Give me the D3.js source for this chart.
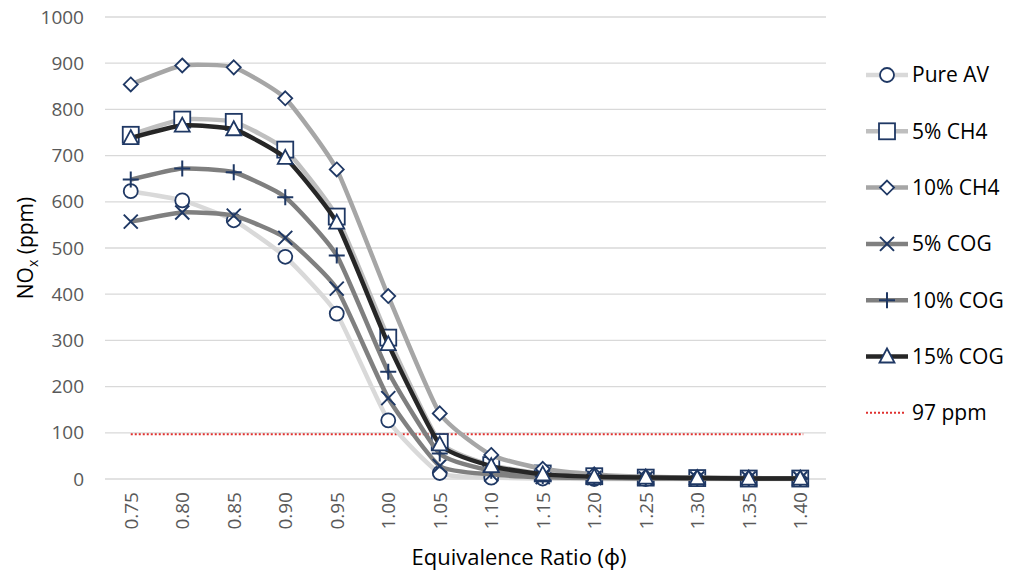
<!DOCTYPE html>
<html>
<head>
<meta charset="utf-8">
<script src="https://cdn.jsdelivr.net/npm/d3@7"></script>
<style>
  body { margin: 0; background: #fff; }
  text { font-family: "Open Sans", "Noto Sans", sans-serif; }
</style>
</head>
<body>
<div id="chart"></div>
<script>
// data
var ratios = ["0.75","0.80","0.85","0.90","0.95","1.00","1.05","1.10","1.15","1.20","1.25","1.30","1.35","1.40"]
var pureAV  = [623, 603, 560, 481, 358, 127, 13, 3, 1, 0, 0, 0, 0, 0]
var ch4_5   = [745, 778, 773, 713, 568, 306, 80, 30, 12, 6, 3, 2, 1, 1]
var ch4_10  = [854, 895, 891, 824, 670, 396, 142, 52, 22, 10, 5, 3, 2, 1]
var cog_5   = [557, 577, 570, 522, 412, 175, 28, 10, 4, 2, 1, 1, 1, 1]
var cog_10  = [648, 672, 664, 610, 484, 232, 55, 18, 6, 3, 2, 1, 1, 1]
var cog_15  = [738, 765, 757, 695, 555, 292, 75, 28, 10, 5, 3, 2, 1, 1]
var limit = 97
var yTicks = [0,100,200,300,400,500,600,700,800,900,1000]

var series = [
  {name: "Pure AV", values: pureAV, color: "#d9d9d9", mark: "circle"},
  {name: "5% CH4", values: ch4_5, color: "#bfbfbf", mark: "square"},
  {name: "10% CH4", values: ch4_10, color: "#a6a6a6", mark: "diamond"},
  {name: "5% COG", values: cog_5, color: "#808080", mark: "x"},
  {name: "10% COG", values: cog_10, color: "#7f7f7f", mark: "plus"},
  {name: "15% COG", values: cog_15, color: "#262626", mark: "triangle"}
]

var width = 1022, height = 576
var plotLeft = 105, plotRight = 826, plotTop = 17, plotBottom = 479
var navy = "#1f3864"

var svg = d3.select("#chart").append("svg")
  .attr("width", width).attr("height", height)

var x = d3.scalePoint().domain(ratios).range([plotLeft, plotRight]).padding(0.5)
var y = d3.scaleLinear().domain([0, 1000]).range([plotBottom, plotTop])

// gridlines
svg.append("g").selectAll("line").data(yTicks).enter().append("line")
  .attr("x1", plotLeft).attr("x2", plotRight)
  .attr("y1", d => y(d)).attr("y2", d => y(d))
  .attr("stroke", "#d9d9d9").attr("stroke-width", 1.3)

// y axis labels
var yAxis = svg.append("g").attr("transform", "translate(" + plotLeft + ",0)")
  .call(d3.axisLeft(y).tickValues(yTicks).tickFormat(d3.format("d")).tickSize(0).tickPadding(21))
yAxis.select(".domain").remove()
yAxis.selectAll("text").attr("font-size", 19).attr("fill", "#595959")
  .style("font-family", "'Open Sans', sans-serif")

// x axis labels, rotated
var xAxis = svg.append("g").attr("transform", "translate(0," + plotBottom + ")")
  .call(d3.axisBottom(x).tickSize(0))
xAxis.select(".domain").remove()
xAxis.selectAll("text")
  .attr("font-size", 19).attr("fill", "#595959")
  .attr("transform", "rotate(-90)")
  .attr("x", -13).attr("y", 0).attr("dy", "0.35em")
  .style("text-anchor", "end")
  .style("font-family", "'Open Sans', sans-serif")

// axis titles
var yt = svg.append("text")
  .attr("transform", "translate(33,248) rotate(-90)")
  .attr("text-anchor", "middle").attr("font-size", 21).attr("fill", "#000")
yt.append("tspan").text("NO")
yt.append("tspan").text("x").attr("font-size", 14).attr("dy", 5)
yt.append("tspan").text(" (ppm)").attr("dy", -5)

svg.append("text").attr("x", 519).attr("y", 565)
  .attr("text-anchor", "middle").attr("font-size", 22).attr("fill", "#000")
  .text("Equivalence Ratio (\u03d5)")

// 97 ppm limit line
svg.append("line")
  .attr("x1", x(ratios[0])).attr("x2", x(ratios[ratios.length - 1]) + 3)
  .attr("y1", y(limit)).attr("y2", y(limit))
  .attr("stroke", "#e0312f").attr("stroke-width", 2).attr("stroke-dasharray", "2,2")

function drawMark(g, type, cx, cy) {
  var s = g.append("g").attr("transform", "translate(" + cx + "," + cy + ")")
    .attr("fill", "#fff").attr("stroke", navy).attr("stroke-width", 1.8)
  if (type == "circle") s.append("circle").attr("r", 7)
  else if (type == "square") s.append("rect").attr("x", -8).attr("y", -8).attr("width", 16).attr("height", 16)
  else if (type == "diamond") s.append("path").attr("d", "M0,-7L7,0L0,7L-7,0Z")
  else if (type == "triangle") s.append("path").attr("d", "M0,-8L7.5,6L-7.5,6Z")
  else if (type == "x") s.append("path").attr("d", "M-7,-7L7,7M-7,7L7,-7").attr("stroke-width", 2)
  else if (type == "plus") s.append("path").attr("d", "M-8,0L8,0M0,-8L0,8").attr("stroke-width", 2)
}

// smoothed lines, mild tension like a spreadsheet smooth line
var line = d3.line()
  .x((d, i) => x(ratios[i]))
  .y(d => y(d))
  .curve(d3.curveCardinal.tension(0.5))

series.forEach(s => {
  var g = svg.append("g")
  g.append("path").datum(s.values).attr("d", line)
    .attr("fill", "none").attr("stroke", s.color).attr("stroke-width", 4.5)
    .attr("stroke-linejoin", "round")
  s.values.forEach((v, i) => drawMark(g, s.mark, x(ratios[i]), y(v)))
})

// legend
var leg = svg.append("g").attr("transform", "translate(866,0)")
series.forEach((s, i) => {
  var ly = 75 + i * 56.3
  leg.append("line").attr("x1", 0).attr("x2", 42).attr("y1", ly).attr("y2", ly)
    .attr("stroke", s.color).attr("stroke-width", 4.5)
  drawMark(leg, s.mark, 21, ly)
  leg.append("text").attr("x", 46).attr("y", ly).attr("dy", "0.35em")
    .attr("font-size", 21).attr("fill", "#000").text(s.name)
})
var ly = 75 + 6 * 56.3
leg.append("line").attr("x1", 0).attr("x2", 40).attr("y1", ly).attr("y2", ly)
  .attr("stroke", "#e0312f").attr("stroke-width", 2).attr("stroke-dasharray", "2,2")
leg.append("text").attr("x", 46).attr("y", ly).attr("dy", "0.35em")
  .attr("font-size", 21).attr("fill", "#000").text("97 ppm")
</script>
</body>
</html>
